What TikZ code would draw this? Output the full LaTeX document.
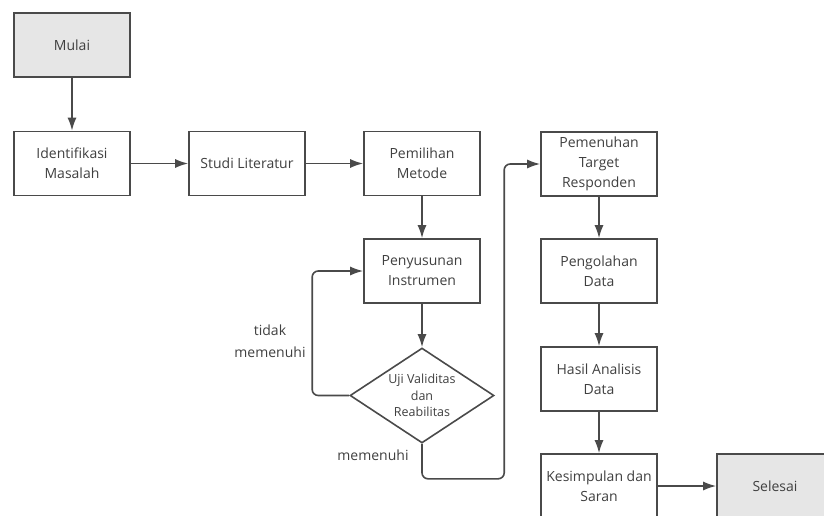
\documentclass[tikz,border=0pt]{standalone}
\usepackage{fontspec}
\setmainfont{Open Sans}
\usepackage{tikz}
\usetikzlibrary{positioning,shapes,arrows.meta}
\definecolor{boxline}{HTML}{4A4A4A}
\definecolor{boxtext}{HTML}{404040}
\definecolor{boxgray}{HTML}{E6E6E6}
\tikzset {
    style A/.style={
        fill=white,
        draw=boxline,
        line width=1.6pt,
        text=boxtext,
        rectangle, % Set the shape as a rectangle
        minimum width=116pt,
        minimum height=64pt,
        align=center,
        font=\fontsize{14}{20}\selectfont,
    },
    style B/.style={
        style A,
        fill=boxgray, % start and end boxes
    },
    style C/.style={
        fill=white,
        draw=boxline,
        line width=1.6pt,
        text=boxtext,
        diamond, % decision
        aspect=1.52,
        inner sep=0pt,
        minimum width=144pt,
        minimum height=95pt,
        align=center,
        font=\fontsize{12.5}{16.5}\selectfont,
    },
    line/.style={
        draw=boxline,
        line width=1.6pt,
        -{Latex[length=13pt,width=9pt]},
    },
}
\begin{document}
\begin{tikzpicture}
[x=1pt, y=-1pt]
\useasboundingbox (0,0) rectangle (824,516);
\clip (0,0) rectangle (824,516);

\node[style B] at (72, 45) (mulai) {Mulai};
\node[style A] at (72, 163.5) (identifikasi) {Identifikasi\\Masalah};
\node[style A] at (247, 163.5) (studi) {Studi Literatur};
\node[style A] at (422, 163.5) (pemilihan) {Pemilihan\\Metode};
\node[style A] at (422, 271) (penyusunan) {Penyusunan\\Instrumen};
\node[style C] at (422, 395.5) (uji) {Uji Validitas\\dan\\Reabilitas};
\node[style A] at (599, 164) (pemenuhan) {Pemenuhan\\Target\\Responden};
\node[style A] at (599, 271) (pengolahan) {Pengolahan\\Data};
\node[style A] at (599, 379) (hasil) {Hasil Analisis\\Data};
\node[style A] at (599, 486) (kesimpulan) {Kesimpulan dan\\Saran};
\node[style B] at (775, 486) (selesai) {Selesai};

\draw[line] (mulai) -- (identifikasi);
\draw[line] (identifikasi) -- (studi);
\draw[line] (studi) -- (pemilihan);
\draw[line] (pemilihan) -- (penyusunan);
\draw[line] (penyusunan) -- (uji);
\draw[line, rounded corners=6pt] (uji.west) -- ++(-37,0) |- (penyusunan.west);
\draw[line, rounded corners=6pt] (uji.south) -- ++(0,35) -| ([xshift=-36pt]pemenuhan.west) -- (pemenuhan.west);
\draw[line] (pemenuhan) -- (pengolahan);
\draw[line] (pengolahan) -- (hasil);
\draw[line] (hasil) -- (kesimpulan);
\draw[line] (kesimpulan) -- (selesai);

\node[text=boxtext, align=center, font=\fontsize{14}{22}\selectfont] at (270, 341) (tidak) {tidak\\memenuhi};
\node[text=boxtext, font=\fontsize{14}{20}\selectfont] at (373, 455) (memenuhi) {memenuhi};
\end{tikzpicture}
\end{document}
